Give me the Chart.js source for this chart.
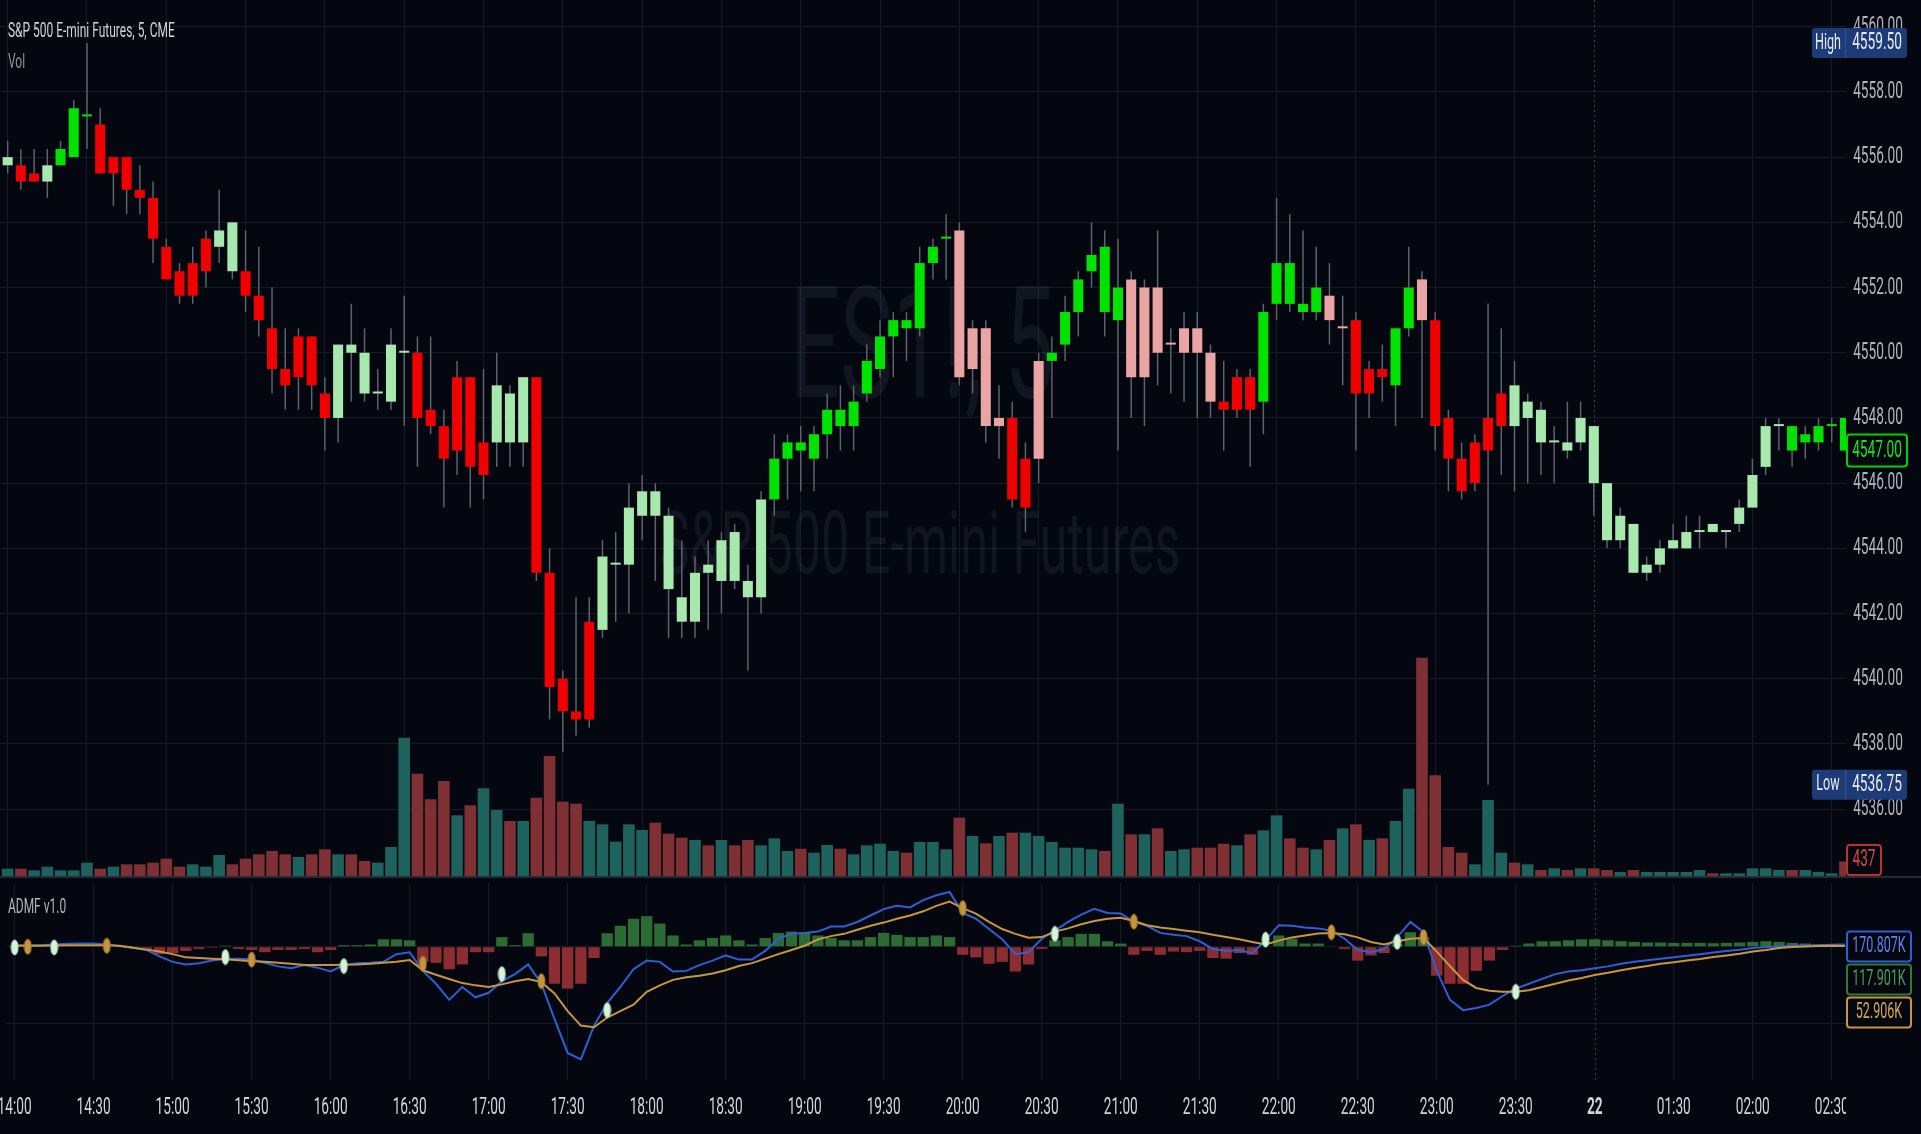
<!DOCTYPE html>
<html>
<head>
<meta charset="utf-8">
<script src="https://cdn.jsdelivr.net/npm/chart.js@4.4.1/dist/chart.umd.min.js"></script>
<style>
  html, body { margin: 0; padding: 0; background: #04070f; overflow: hidden; }
  #wrap { position: relative; width: 1921px; height: 1134px; }
  canvas { position: absolute; left: 0; }
  #price { top: 0; }
  #admf { top: 876px; }
</style>
</head>
<body>
<div id="wrap">
  <canvas id="price" width="1921" height="876"></canvas>
  <canvas id="admf" width="1921" height="258"></canvas>
</div>
<script>
'use strict';

// ES1! 5-minute bars (bar 0 = 14:00)
const open = [4555.75,4555.75,4555.25,4555.25,4555.75,4556.0,4557.25,4557.0,4555.5,4556.0,
  4555.0,4554.75,4553.25,4552.5,4551.75,4552.5,4553.25,4554.0,4552.5,4551.75,
  4550.75,4549.5,4549.25,4550.5,4548.75,4548.0,4550.25,4550.0,4548.75,4548.5,
  4550.0,4550.0,4548.25,4547.75,4547.0,4549.25,4546.25,4547.25,4548.75,4547.25,
  4549.25,4543.25,4540.0,4539.0,4538.75,4541.5,4543.5,4543.5,4545.0,4545.75,
  4545.0,4542.5,4541.75,4543.5,4543.0,4544.5,4543.0,4542.5,4545.5,4546.75,
  4547.25,4546.75,4547.5,4548.25,4547.75,4548.75,4549.5,4550.5,4551.0,4550.75,
  4552.75,4553.5,4553.75,4549.5,4550.75,4547.75,4548.0,4545.25,4546.75,4549.75,
  4550.25,4551.25,4552.5,4553.25,4551.0,4552.25,4549.25,4552.0,4550.25,4550.0,
  4550.75,4550.0,4548.5,4548.25,4549.25,4548.5,4551.5,4552.75,4551.5,4551.25,
  4551.75,4550.75,4551.0,4548.75,4549.5,4549.0,4550.75,4552.25,4551.0,4548.0,
  4546.75,4546.0,4547.0,4547.75,4549.0,4548.0,4548.25,4547.25,4547.25,4547.25,
  4547.75,4546.0,4544.25,4544.75,4543.25,4543.5,4544.0,4544.0,4544.5,4544.75,
  4544.5,4544.75,4545.25,4546.5,4547.75,4547.75,4547.25,4547.25,4547.75,4548.0];
const high = [4556.5,4556.25,4556.25,4556.25,4556.5,4557.75,4559.5,4557.5,4556.0,4556.0,
  4555.75,4555.25,4553.5,4552.75,4553.25,4553.75,4555.0,4554.0,4553.75,4553.25,
  4552.0,4550.75,4550.75,4550.5,4549.25,4550.25,4551.5,4550.75,4549.5,4550.75,
  4551.75,4550.5,4550.5,4548.25,4549.75,4549.25,4549.5,4550.0,4549.0,4549.25,
  4549.25,4544.0,4540.25,4542.5,4542.5,4544.25,4544.5,4546.0,4546.25,4546.0,
  4545.25,4544.25,4543.75,4544.25,4544.5,4544.75,4543.5,4545.75,4547.5,4547.5,
  4547.75,4547.75,4548.75,4549.0,4549.0,4550.25,4551.0,4551.25,4551.25,4553.25,
  4553.5,4554.25,4554.0,4551.0,4551.0,4549.0,4548.5,4547.25,4550.0,4550.5,
  4551.75,4552.5,4554.0,4553.75,4553.5,4552.5,4552.25,4553.75,4550.75,4551.25,
  4551.25,4550.25,4549.75,4549.5,4549.5,4551.5,4554.75,4554.25,4553.75,4553.25,
  4552.75,4551.75,4551.25,4549.75,4550.25,4550.75,4553.25,4552.5,4551.25,4548.25,
  4547.25,4547.5,4551.5,4550.75,4549.75,4548.75,4548.5,4547.75,4548.5,4548.5,
  4547.75,4546.0,4545.25,4544.75,4543.75,4544.25,4544.75,4545.0,4545.0,4544.75,
  4544.5,4545.5,4546.75,4548.0,4548.0,4547.75,4547.75,4548.0,4548.0,4548.0];
const low = [4555.5,4555.0,4555.25,4554.75,4555.75,4556.0,4556.25,4555.5,4554.5,4554.25,
  4554.25,4552.75,4552.25,4551.5,4551.5,4552.0,4552.75,4552.25,4551.25,4550.5,
  4548.75,4548.25,4548.25,4548.25,4547.0,4547.25,4548.5,4548.5,4548.25,4548.25,
  4547.75,4546.5,4547.5,4545.25,4546.25,4545.25,4545.5,4546.5,4546.5,4546.5,
  4543.0,4538.75,4537.75,4538.25,4538.5,4541.25,4541.75,4542.0,4544.25,4543.0,
  4541.25,4541.25,4541.25,4541.5,4542.0,4542.75,4540.25,4542.0,4545.0,4545.5,
  4545.75,4545.75,4546.75,4547.0,4547.0,4548.5,4549.25,4549.25,4549.75,4550.5,
  4552.25,4552.25,4549.0,4548.75,4547.25,4546.75,4545.25,4544.5,4546.0,4548.0,
  4549.75,4550.5,4552.0,4550.5,4547.0,4548.0,4547.75,4549.0,4548.75,4548.5,
  4548.0,4548.0,4547.0,4548.0,4546.5,4547.5,4551.0,4551.25,4551.0,4551.0,
  4550.25,4549.0,4547.0,4548.0,4548.5,4547.75,4550.5,4548.0,4547.0,4545.75,
  4545.5,4545.75,4536.75,4546.25,4545.75,4546.0,4546.25,4546.0,4546.75,4547.0,
  4545.0,4544.0,4544.0,4543.25,4543.0,4543.25,4544.0,4544.0,4544.0,4544.5,
  4544.0,4544.5,4545.25,4546.25,4547.0,4546.5,4546.75,4547.0,4547.25,4547.0];
const close = [4556.0,4555.25,4555.5,4555.75,4556.25,4557.5,4557.25,4555.5,4556.0,4555.0,
  4554.75,4553.5,4552.25,4551.75,4552.75,4553.5,4553.75,4552.5,4551.75,4551.0,
  4549.5,4549.0,4550.5,4549.0,4548.0,4550.25,4550.0,4548.75,4548.75,4550.25,
  4550.0,4548.0,4547.75,4546.75,4549.25,4546.5,4547.25,4549.0,4547.25,4549.25,
  4543.25,4539.75,4539.0,4538.75,4541.75,4543.75,4543.5,4545.25,4545.75,4545.0,
  4542.75,4541.75,4543.25,4543.25,4544.25,4543.0,4542.5,4545.5,4546.75,4547.25,
  4547.0,4547.5,4548.25,4547.75,4548.5,4549.75,4550.5,4551.0,4550.75,4552.75,
  4553.25,4553.5,4549.25,4550.75,4547.75,4548.0,4545.5,4546.75,4549.75,4550.0,
  4551.25,4552.25,4553.0,4551.25,4552.0,4549.25,4552.0,4550.0,4550.25,4550.75,
  4550.0,4548.5,4548.25,4549.25,4548.25,4551.25,4552.75,4551.5,4551.25,4552.0,
  4551.0,4550.75,4548.75,4549.5,4549.25,4550.75,4552.0,4551.0,4547.75,4546.75,
  4545.75,4547.25,4548.0,4548.75,4547.75,4548.5,4547.25,4547.25,4547.0,4548.0,
  4546.0,4544.25,4545.0,4543.25,4543.5,4544.0,4544.25,4544.5,4544.5,4544.5,
  4544.5,4545.25,4546.25,4547.75,4547.75,4547.0,4547.5,4547.75,4547.75,4547.0];
const volume = [220,220,170,280,170,170,400,220,280,350,
  350,400,520,280,350,280,630,350,520,650,
  750,650,570,650,800,650,650,450,400,870,
  4150,3070,2300,2850,1820,2120,2630,1980,1650,1650,
  2350,3600,2230,2170,1650,1550,1030,1550,1380,1600,
  1270,1150,1080,920,1080,920,1080,920,1130,750,
  820,700,930,820,650,920,970,750,700,1020,
  1020,800,1750,1200,980,1200,1300,1300,1200,1020,
  850,850,800,750,2170,1250,1250,1430,750,800,
  850,850,970,920,1250,1370,1820,1130,850,800,
  1080,1430,1550,1080,1130,1650,2620,6550,3020,870,
  700,350,2280,700,400,350,180,230,180,230,
  230,180,120,180,120,120,120,120,180,80,
  80,80,230,230,180,180,180,120,80,437];
// candle colour state painted by the indicator: G bull, R bear, g weak bull, p weak bear
const barState = ('gRRgGGGRRR' + 'RRRRRRggRR' + 'RRRRRggggg' + 'gRRRRRRggg' + 'RRRRRggggg' +
  'ggggggggGG' + 'GGGGGGGGGG' + 'GGppppRRpG' + 'GGGGGppppp' + 'ppRRRGGGGG' +
  'ppRRRGGpRR' + 'RRRRgggggg' + 'gggggggggg' + 'gggggGGGGG').split('');

// ADMF v1.0 pane, values in K
const admfLine = [125,125,125,175,225,250,250,175,75,-75,
  -250,-750,-1175,-1375,-1275,-1075,-950,-925,-1000,-1250,
  -1525,-1675,-1425,-1625,-1925,-1425,-1275,-1250,-1175,-575,
  -425,-1875,-2875,-4125,-3125,-3925,-3575,-2675,-2125,-1375,
  -2875,-5625,-8250,-8750,-6125,-4375,-3125,-1750,-1075,-1175,
  -1925,-1875,-1425,-1075,-675,-1000,-1000,-325,625,1000,
  1075,1175,1575,1575,1925,2425,2925,3175,3050,3625,
  4000,4250,2625,2175,1375,575,-575,-425,625,1250,
  1925,2500,2950,2625,2575,1925,1625,1075,925,825,
  425,-175,-325,-250,-500,500,1675,1625,1500,1425,
  1250,625,-250,-425,-175,750,1925,1125,-1875,-4125,
  -4925,-4750,-4500,-3825,-3250,-2875,-2500,-2125,-1925,-1825,
  -1675,-1525,-1325,-1175,-1050,-925,-825,-700,-575,-450,
  -325,-225,-100,-25,25,75,100,125,150,170.807];
const signalLine = [75,75,75,100,125,125,125,125,50,-75,
  -225,-375,-575,-825,-875,-925,-975,-1050,-1125,-1175,
  -1250,-1325,-1425,-1425,-1425,-1400,-1375,-1325,-1250,-1175,
  -1025,-1825,-2175,-2500,-2825,-3000,-3125,-2925,-2675,-2500,
  -2750,-3625,-5000,-6125,-6250,-5500,-5000,-4500,-3500,-3000,
  -2575,-2375,-2250,-2075,-1825,-1500,-1275,-925,-575,-250,
  75,575,825,1000,1325,1625,1875,2175,2425,2750,
  3175,3500,3000,2575,1925,1375,1000,700,750,1175,
  1425,1750,2000,2175,2250,2000,1675,1500,1375,1250,
  1125,925,750,575,375,175,475,725,875,1025,
  1075,975,725,375,175,425,625,675,-375,-1500,
  -2575,-3200,-3425,-3500,-3500,-3375,-3125,-2875,-2625,-2425,
  -2200,-2025,-1825,-1650,-1500,-1325,-1200,-1075,-950,-800,
  -675,-550,-375,-250,-100,-25,25,50,75,52.906];
const admfHist = [25,25,25,50,50,50,25,0,0,-25,
  -250,-575,-500,-325,-175,-75,75,-175,-250,-425,
  -250,-250,-175,-425,-250,125,125,175,575,575,
  500,-1175,-1250,-1750,-1375,-425,-425,750,125,1050,
  -750,-2875,-3250,-2875,-875,1050,1625,2175,2375,1800,
  875,175,500,675,875,500,175,675,1075,1175,
  1125,875,675,500,500,750,1075,925,750,750,
  875,750,-625,-825,-1325,-1175,-1925,-1375,-175,500,
  750,1000,1000,425,250,-625,-325,-625,-375,-425,
  -325,-875,-925,-500,-625,0,875,625,250,250,
  0,-175,-1075,-675,-500,175,1125,750,-2250,-2875,
  -2875,-1875,-1075,-250,75,250,425,425,500,575,
  575,500,425,375,325,325,300,300,300,275,
  300,325,375,425,375,300,250,175,75,117.901];
// [bar, value] of the cross markers
const crossUp = [[0,-50],[3,-50],[16,-800],[25,-1500],[37,-2125],[45,-4925],[79,1000],[95,550],[105,375],[114,-3500]];
const crossDown = [[1,0],[7,75],[18,-1000],[31,-1325],[40,-2675],[72,3000],[85,1950],[100,1125],[107,750]];

const priceTicks = [4536,4538,4540,4542,4544,4546,4548,4550,4552,4554,4556,4558,4560];
const admfTicks = [0, -6000];
const timeTickIdx = [0,6,12,18,24,30,36,42,48,54,60,66,72,78,84,90,96,102,108,114,120,126,132,138];
const timeTickText = ['14:00','14:30','15:00','15:30','16:00','16:30','17:00','17:30','18:00','18:30','19:00','19:30',
  '20:00','20:30','21:00','21:30','22:00','22:30','23:00','23:30','22','01:30','02:00','02:30'];
const SESSION_IDX = 120;

const BG = '#04070f';
const GRID = '#151a26';
const WICK = '#60646f';
const STATE_COLORS = { G: '#00e200', R: '#f00000', g: '#a6e8ad', p: '#eba4a4' };
const VOL_UP = '#1d625c', VOL_DN = '#7e3034';
const HIST_UP = '#2c6b34', HIST_DN = '#8c2d32';
const BLUE = '#2f5fd6', ORANGE = '#c8963f';
const TEXT = '#d1d4dc', AXIS_TEXT = '#b2b5be';
const WATERMARK = 'rgba(130,140,160,0.11)';
const FONT = 'Roboto, "Liberation Sans", sans-serif';
const SX = 0.57; // the screenshot is squeezed horizontally
const AXIS_W = 75;

const idx = open.map((_, i) => i);

function squeezed(ctx, txt, x, y, size, color, align, weight, baseline) {
  ctx.save();
  ctx.font = (weight || 'normal') + ' ' + size + 'px ' + FONT;
  ctx.fillStyle = color;
  ctx.textAlign = align || 'left';
  ctx.textBaseline = baseline || 'middle';
  ctx.translate(x, y);
  ctx.scale(SX, 1);
  ctx.fillText(txt, 0, 0);
  ctx.restore();
}

function tagBox(ctx, x, y, w, h, fill, stroke) {
  ctx.save();
  ctx.beginPath();
  ctx.roundRect(x, y, w, h, 3);
  ctx.fillStyle = fill;
  ctx.fill();
  if (stroke) {
    ctx.lineWidth = 2;
    ctx.strokeStyle = stroke;
    ctx.stroke();
  }
  ctx.restore();
}

function extremeTag(ctx, name, value, yPix) {
  tagBox(ctx, 1812, yPix - 15, 95, 30, '#1d3b77');
  ctx.fillStyle = '#30538f';
  ctx.fillRect(1845, yPix - 15, 1, 30);
  squeezed(ctx, name, 1828, yPix, 22, '#e8eaf0', 'center');
  squeezed(ctx, value.toFixed(2), 1877, yPix, 24, '#e8eaf0', 'center');
}

function sessionLine(chart) {
  const { ctx, chartArea, scales } = chart;
  const x = Math.round(scales.x.getPixelForValue(SESSION_IDX)) + 0.5;
  ctx.save();
  ctx.strokeStyle = '#24446e';
  ctx.lineWidth = 1;
  ctx.setLineDash([2, 3]);
  ctx.beginPath();
  ctx.moveTo(x, chartArea.top);
  ctx.lineTo(x, chartArea.bottom);
  ctx.stroke();
  ctx.restore();
}

function dotImage(fill, edge) {
  const c = document.createElement('canvas');
  c.width = 9;
  c.height = 17;
  const g = c.getContext('2d');
  g.beginPath();
  g.ellipse(4.5, 8.5, 3.5, 7.5, 0, 0, Math.PI * 2);
  g.fillStyle = fill;
  g.fill();
  g.lineWidth = 1;
  g.strokeStyle = edge;
  g.stroke();
  return c;
}

function timeAxis(height) {
  return {
    type: 'linear',
    min: -0.58,
    max: 139.08,
    offset: false,
    afterBuildTicks: s => { s.ticks = timeTickIdx.map(v => ({ value: v })); },
    afterFit: s => { s.height = height; },
    ticks: { display: false },
    grid: {
      offset: false,
      drawTicks: false,
      color: c => (c.tick && c.tick.value === SESSION_IDX) ? 'rgba(0,0,0,0)' : GRID
    },
    border: { display: false }
  };
}

const background = {
  id: 'background',
  beforeDraw(chart) {
    const ctx = chart.ctx;
    ctx.save();
    ctx.fillStyle = BG;
    ctx.fillRect(0, 0, chart.width, chart.height);
    ctx.restore();
  }
};

const pricePane = {
  id: 'pricePane',
  beforeDatasetsDraw(chart) {
    const ctx = chart.ctx;
    squeezed(ctx, 'ES1!, 5', 922, 397, 155, WATERMARK, 'center', 'normal', 'alphabetic');
    squeezed(ctx, 'S&P 500 E-mini Futures', 920, 573, 88, WATERMARK, 'center', 'normal', 'alphabetic');
    sessionLine(chart);
  },
  afterDraw(chart) {
    const ctx = chart.ctx;
    const y = chart.scales.y;
    const v = chart.scales.vol;
    priceTicks.forEach(p => squeezed(ctx, p.toFixed(2), 1878, y.getPixelForValue(p), 24, AXIS_TEXT, 'center'));

    squeezed(ctx, 'S&P 500 E-mini Futures, 5, CME', 8, 32, 21, TEXT);
    squeezed(ctx, 'Vol', 8, 63, 21, '#8f929b');

    const hi = Math.max(...high);
    const lo = Math.min(...low);
    extremeTag(ctx, 'High', hi, y.getPixelForValue(hi));
    extremeTag(ctx, 'Low', lo, y.getPixelForValue(lo));

    const last = close.length - 1;
    const yc = y.getPixelForValue(close[last]);
    tagBox(ctx, 1847, yc - 16, 60, 32, BG, '#00d400');
    squeezed(ctx, close[last].toFixed(2), 1877, yc, 24, '#19e619', 'center');

    const yv = Math.min(v.getPixelForValue(volume[last]), chart.chartArea.bottom - 16);
    tagBox(ctx, 1847, yv - 15, 34, 30, BG, '#b83232');
    squeezed(ctx, String(volume[last]), 1864, yv, 24, '#d24848', 'center');
  }
};

const admfPane = {
  id: 'admfPane',
  beforeDatasetsDraw(chart) {
    sessionLine(chart);
  },
  afterDraw(chart) {
    const { ctx, scales, chartArea } = chart;
    ctx.fillStyle = '#252a36';
    ctx.fillRect(0, 0, chart.width, 2);
    squeezed(ctx, 'ADMF v1.0', 8, 32, 21, AXIS_TEXT);

    ctx.save();
    ctx.beginPath();
    ctx.rect(0, chartArea.bottom, chartArea.right, chart.height - chartArea.bottom);
    ctx.clip();
    timeTickIdx.forEach((t, k) => {
      squeezed(ctx, timeTickText[k], scales.x.getPixelForValue(t), 232, 24, TEXT, 'center',
        t === SESSION_IDX ? 'bold' : 'normal');
    });
    ctx.restore();

    const last = admfLine.length - 1;
    let yTag = scales.y.getPixelForValue(admfLine[last]) + 2;
    [[admfLine, BLUE, '#5a83ee'], [admfHist, '#2f7a37', '#46a04f'], [signalLine, ORANGE, '#d8a64e']].forEach(([arr, stroke, txt]) => {
      tagBox(ctx, 1847, yTag - 15, 64, 30, BG, stroke);
      squeezed(ctx, arr[last].toFixed(3) + 'K', 1879, yTag, 22, txt, 'center');
      yTag += 33;
    });
  }
};

new Chart(document.getElementById('price').getContext('2d'), {
  type: 'bar',
  data: {
    datasets: [
      {
        label: 'Volume',
        data: idx.map(i => ({ x: i, y: volume[i] })),
        yAxisID: 'vol',
        backgroundColor: idx.map(i => close[i] >= open[i] ? VOL_UP : VOL_DN),
        barPercentage: 0.88,
        categoryPercentage: 1,
        grouped: false,
        order: 5
      },
      {
        label: 'Wick',
        data: idx.map(i => ({ x: i, y: [low[i], high[i]] })),
        yAxisID: 'y',
        backgroundColor: WICK,
        barPercentage: 0.11,
        categoryPercentage: 1,
        maxBarThickness: 1.5,
        grouped: false,
        order: 3
      },
      {
        label: 'ES1!',
        data: idx.map(i => ({ x: i, y: [open[i], close[i]] })),
        yAxisID: 'y',
        backgroundColor: idx.map(i => STATE_COLORS[barState[i]]),
        barPercentage: 0.76,
        categoryPercentage: 1,
        minBarLength: 2,
        grouped: false,
        order: 1
      }
    ]
  },
  options: {
    responsive: false,
    animation: false,
    devicePixelRatio: 1,
    events: [],
    layout: { padding: 0 },
    plugins: { legend: { display: false }, tooltip: { enabled: false } },
    scales: {
      x: timeAxis(0),
      y: {
        position: 'right',
        min: 4533.95,
        max: 4560.82,
        beginAtZero: false,
        afterBuildTicks: s => { s.ticks = priceTicks.map(v => ({ value: v })); },
        afterFit: s => { s.width = AXIS_W; },
        ticks: { display: false },
        grid: { color: GRID, drawTicks: false },
        border: { display: false }
      },
      vol: {
        display: false,
        min: 0,
        max: 26280
      }
    }
  },
  plugins: [background, pricePane]
});

new Chart(document.getElementById('admf').getContext('2d'), {
  type: 'bar',
  data: {
    datasets: [
      {
        label: 'Histogram',
        data: idx.map(i => ({ x: i, y: admfHist[i] })),
        backgroundColor: idx.map(i => admfHist[i] >= 0 ? HIST_UP : HIST_DN),
        barPercentage: 0.86,
        categoryPercentage: 1,
        grouped: false,
        order: 5
      },
      {
        type: 'line',
        label: 'ADMF',
        data: idx.map(i => ({ x: i, y: admfLine[i] })),
        borderColor: BLUE,
        borderWidth: 2,
        pointRadius: 0,
        tension: 0,
        order: 3
      },
      {
        type: 'line',
        label: 'Signal',
        data: idx.map(i => ({ x: i, y: signalLine[i] })),
        borderColor: ORANGE,
        borderWidth: 2,
        pointRadius: 0,
        tension: 0,
        order: 2
      },
      {
        type: 'line',
        label: 'Cross up',
        data: crossUp.map(([i, v]) => ({ x: i, y: v })),
        showLine: false,
        pointStyle: dotImage('#d6f3dc', '#a8d8b2'),
        pointRadius: 6,
        order: 1
      },
      {
        type: 'line',
        label: 'Cross down',
        data: crossDown.map(([i, v]) => ({ x: i, y: v })),
        showLine: false,
        pointStyle: dotImage('#c8963f', '#a57a30'),
        pointRadius: 6,
        order: 1
      }
    ]
  },
  options: {
    responsive: false,
    animation: false,
    devicePixelRatio: 1,
    events: [],
    layout: { padding: 0 },
    plugins: { legend: { display: false }, tooltip: { enabled: false } },
    scales: {
      x: timeAxis(54),
      y: {
        position: 'right',
        min: -10350,
        max: 4950,
        beginAtZero: false,
        afterBuildTicks: s => { s.ticks = admfTicks.map(v => ({ value: v })); },
        afterFit: s => { s.width = AXIS_W; },
        ticks: { display: false },
        grid: { color: GRID, drawTicks: false },
        border: { display: false }
      }
    }
  },
  plugins: [background, admfPane]
});
</script>
</body>
</html>
